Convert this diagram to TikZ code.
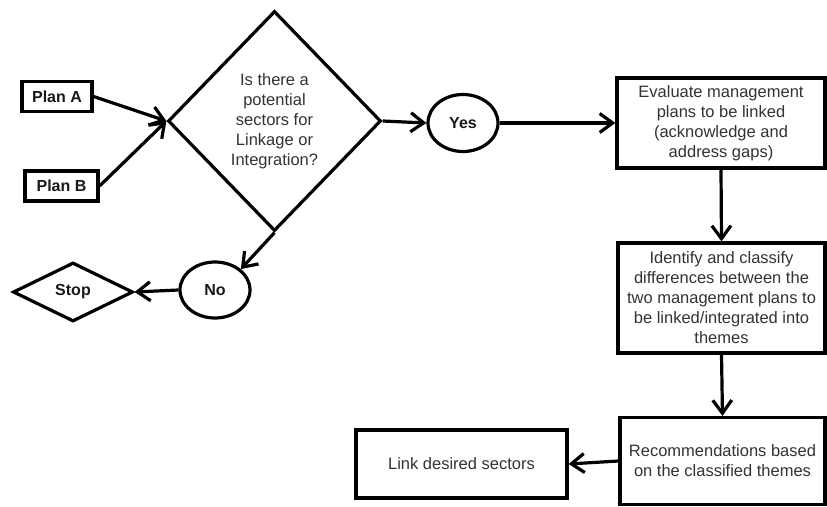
\documentclass[tikz,border=0pt]{standalone}
\usepackage{fontspec}
\setmainfont{Liberation Sans}
\usetikzlibrary{shapes.geometric,arrows.meta}
\begin{document}
\begin{tikzpicture}[x=1pt,y=-1pt,
  every node/.style={inner sep=0pt, line width=3.2pt, draw=black, text=black!80, align=center,
     font=\fontsize{16.5}{20}\selectfont},
  boldlbl/.style={font=\fontsize{16}{18}\selectfont\bfseries, text=black!90},
  planbox/.style={rectangle, boldlbl},
  stepbox/.style={rectangle},
  oval/.style={ellipse, boldlbl},
  conn/.style={line width=3.2pt, -{Straight Barb[length=13pt,width=19pt,line width=3.2pt]}}
]
\useasboundingbox (0,0) rectangle (827,506);
\fill[white] (0,0) rectangle (827,506);

\node[planbox, minimum width=70pt, minimum height=30pt] (pa) at (57,96.5) {Plan A};
\node[planbox, minimum width=73pt, minimum height=30pt] (pb) at (61.5,186) {Plan B};
\node[diamond, minimum width=213pt, minimum height=220pt] (q) at (274.5,121)
  {Is there a\\potential\\sectors for\\Linkage or\\Integration?};
\node[oval, minimum width=70pt, minimum height=57pt] (yes) at (463,123) {Yes};
\node[stepbox, minimum width=208pt, minimum height=90pt] (ev) at (721,123)
  {Evaluate management\\plans to be linked\\(acknowledge and\\address gaps)};
\node[stepbox, minimum width=207pt, minimum height=110pt] (id) at (721.5,298)
  {Identify and classify\\differences between the\\two management plans to\\be linked/integrated into\\themes};
\node[stepbox, minimum width=205pt, minimum height=87pt] (rec) at (722.5,461)
  {Recommendations based\\on the classified themes};
\node[stepbox, minimum width=211pt, minimum height=68pt] (link) at (461.5,464)
  {Link desired sectors};
\node[oval, minimum width=70pt, minimum height=56pt] (no) at (215,290) {No};
\node[diamond, boldlbl, minimum width=120pt, minimum height=59pt] (stop) at (73,292) {Stop};

\draw[conn] (pa.east) -- (q.west);
\draw[conn] (pb.east) -- (q.west);
\draw[conn] (q.east) -- (yes.west);
\draw[conn] (yes.east) -- (ev.west);
\draw[conn] (ev.south) -- (id.north);
\draw[conn] (id.south) -- (rec.north);
\draw[conn] (rec.west) -- (link.east);
\draw[conn] (q.south) -- (no.north east);
\draw[conn] (no.west) -- (stop.east);
\end{tikzpicture}
\end{document}
